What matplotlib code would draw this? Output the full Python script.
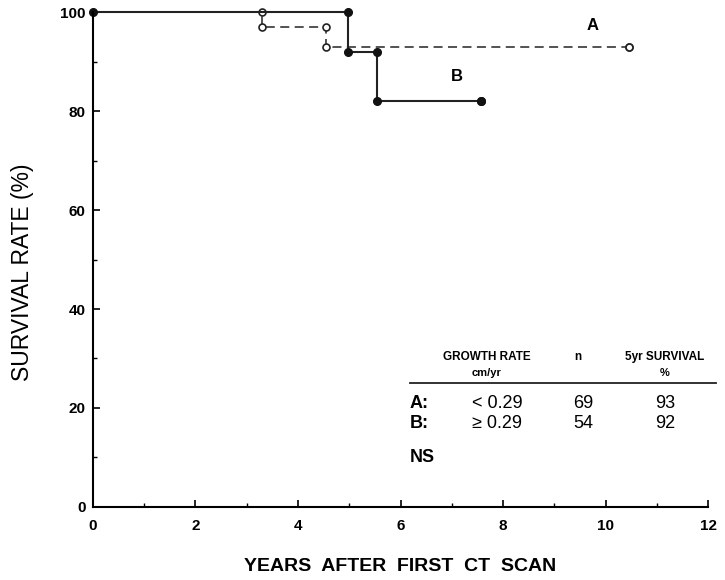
import matplotlib.pyplot as plt
from matplotlib.ticker import MultipleLocator

plt.rcParams['font.family'] = ['Liberation Sans', 'DejaVu Sans']

# group A: growth rate < 0.29 cm/yr (dashed, open circles)
a_times = [0, 3.3, 4.55, 10.45]
a_surv = [100, 97, 93, 93]
# group B: growth rate >= 0.29 cm/yr (solid, filled dots)
b_times = [0, 4.97, 5.55, 7.57]
b_surv = [100, 92, 82, 82]

table_header = ["GROWTH RATE", "n", "5yr SURVIVAL"]
table_units = ["cm/yr", "", "%"]
table_groups = ["A:", "B:"]
table_rates = ["< 0.29", "\u2265 0.29"]
table_n = ["69", "54"]
table_5yr = ["93", "92"]


def steps(t, s):
    xs, ys = [t[0]], [s[0]]
    for i in range(1, len(t)):
        xs += [t[i], t[i]]
        ys += [s[i - 1], s[i]]
    return xs, ys


fig = plt.figure(figsize=(7.25, 5.8), dpi=100)
ax = fig.add_axes([0.128, 0.126, 0.849, 0.853])

xa, ya = steps(a_times, a_surv)
xb, yb = steps(b_times, b_surv)

ax.plot(xa, ya, color='#444444', lw=1.3, ls=(0, (5, 3)), clip_on=False)
ax.plot(xa[1:], ya[1:], ls='none', marker='o', ms=5, mfc='white',
        mec='#222222', mew=1.2, clip_on=False)
ax.plot(xb, yb, color='#222222', lw=1.5, marker='o', ms=5.5,
        mfc='#111111', mec='#111111', clip_on=False)

ax.text(9.74, 97.4, "A", fontsize=12, fontweight='bold', ha='center', va='center')
ax.text(7.1, 86.9, "B", fontsize=12, fontweight='bold', ha='center', va='center')

ax.set_xlim(0, 12)
ax.set_ylim(0, 100)
ax.spines['top'].set_visible(False)
ax.spines['right'].set_visible(False)
ax.spines['left'].set_linewidth(1.5)
ax.spines['bottom'].set_linewidth(1.5)
ax.xaxis.set_major_locator(MultipleLocator(2))
ax.xaxis.set_minor_locator(MultipleLocator(1))
ax.yaxis.set_major_locator(MultipleLocator(20))
ax.yaxis.set_minor_locator(MultipleLocator(10))
ax.tick_params(which='major', direction='in', length=5, width=1.2, labelsize=11)
ax.tick_params(which='minor', direction='in', length=3, width=1.0)
for lab in ax.get_xticklabels() + ax.get_yticklabels():
    lab.set_fontweight('bold')
ax.tick_params(axis='x', pad=9)
ax.tick_params(axis='y', pad=5)

ax.set_ylabel("SURVIVAL RATE (%)", fontsize=16.5, va='center')
ax.yaxis.set_label_coords(-0.115, 0.475)
ax.set_xlabel("YEARS  AFTER  FIRST  CT  SCAN", fontsize=14, fontweight='bold', va='center')
ax.xaxis.set_label_coords(0.5, -0.121)

# table in figure pixel coordinates converted to fractions
W, H = 725, 580
def fx(px):
    return px / W
def fy(py):
    return 1 - py / H

hx = [487, 578, 665]
for x, h, u in zip(hx, table_header, table_units):
    fig.text(fx(x), fy(357), h, fontsize=8.5, fontweight='bold', ha='center', va='center')
    if u:
        fig.text(fx(x), fy(373), u, fontsize=8, fontweight='bold', ha='center', va='center')
fig.add_artist(plt.Line2D([fx(410), fx(716)], [fy(383), fy(383)], color='#222222', lw=1.3))

for i, (g, r, n, s) in enumerate(zip(table_groups, table_rates, table_n, table_5yr)):
    y = fy(403 + 20 * i)
    fig.text(fx(410), y, g, fontsize=13, fontweight='bold', ha='left', va='center')
    fig.text(fx(472), y, r, fontsize=13, ha='left', va='center')
    fig.text(fx(583), y, n, fontsize=13, ha='center', va='center')
    fig.text(fx(665), y, s, fontsize=13, ha='center', va='center')

fig.text(fx(410), fy(457), "NS", fontsize=13, fontweight='bold', ha='left', va='center')

fig.savefig("out.png", dpi=100)
